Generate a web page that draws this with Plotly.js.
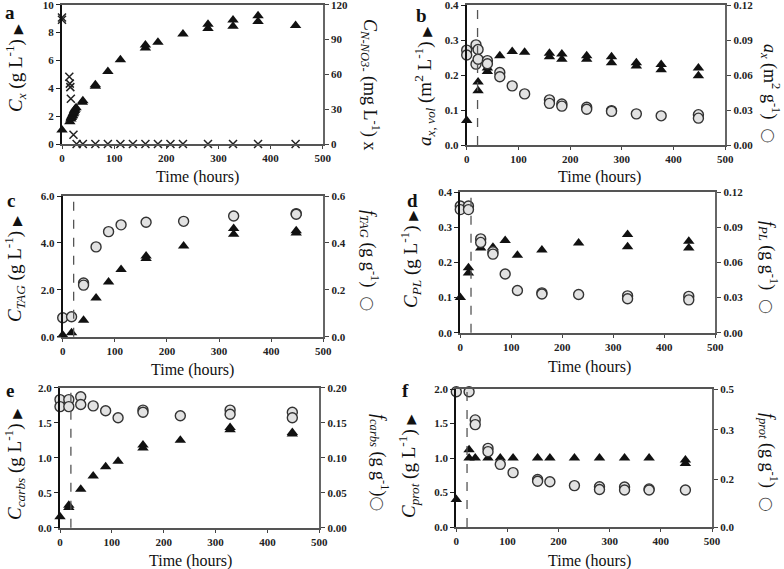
<!DOCTYPE html>
<html><head><meta charset="utf-8">
<script src="https://cdn.plot.ly/plotly-3.0.1.min.js"></script>
<style>html,body{margin:0;padding:0;background:#fff}#chart{width:784px;height:569px}</style>
</head><body><div id="chart"></div>
<script>
// ---------- DATA ----------
const timeTicks = [0, 100, 200, 300, 400, 500];
// panel a
const aTriT = [0, 15, 17, 18, 19, 20, 21, 22, 23, 24, 25, 27, 39, 40, 64, 64, 88, 112, 160, 160, 184, 232, 280, 280, 328, 328, 376, 376, 448];
const aTriY = [1.0, 1.6, 1.8, 1.9, 2.0, 2.05, 2.15, 2.2, 2.3, 2.4, 2.5, 2.6, 3.0, 3.1, 4.15, 4.25, 5.2, 6.05, 6.9, 7.1, 7.3, 7.9, 8.3, 8.6, 8.45, 8.9, 8.8, 9.2, 8.5];
const aNT = [0, 0, 14, 15, 16, 17, 22, 28, 40, 64, 88, 112, 136, 160, 184, 208, 232, 280, 328, 376, 448];
const aNY = [107, 109, 58, 52, 49, 39, 8, 0, 0, 0, 0, 0, 0, 0, 0, 0, 0, 0, 0, 0, 0];
// panel b
const bTriT = [0, 22, 22, 40, 40, 64, 88, 112, 160, 160, 184, 184, 232, 232, 280, 280, 328, 328, 376, 376, 448, 448];
const bTriY = [0.07, 0.18, 0.155, 0.22, 0.21, 0.255, 0.267, 0.265, 0.262, 0.252, 0.26, 0.245, 0.255, 0.245, 0.252, 0.235, 0.235, 0.226, 0.23, 0.215, 0.22, 0.198];
const bCirT = [0, 0, 18, 18, 22, 22, 40, 40, 64, 64, 88, 112, 160, 160, 184, 184, 232, 232, 280, 280, 328, 376, 448, 448];
const bCirY = [0.0813, 0.0771, 0.0858, 0.0693, 0.0819, 0.0735, 0.0723, 0.0696, 0.0621, 0.0585, 0.0507, 0.0438, 0.0387, 0.0357, 0.0351, 0.0333, 0.0324, 0.0306, 0.0295, 0.0288, 0.0267, 0.025, 0.026, 0.023];
// panel c
const cTriT = [0, 17, 40, 64, 88, 112, 160, 160, 232, 328, 328, 448, 448];
const cTriY = [0.07, 0.17, 0.7, 1.65, 2.33, 2.87, 3.44, 3.34, 3.87, 4.61, 4.37, 4.52, 4.42];
const cCirT = [0, 17, 40, 40, 64, 88, 112, 160, 232, 328, 448, 448];
const cCirY = [0.081, 0.085, 0.229, 0.220, 0.383, 0.448, 0.477, 0.488, 0.492, 0.515, 0.525, 0.522];
// panel d
const dTriT = [0, 16, 16, 40, 64, 64, 88, 112, 160, 232, 328, 328, 448, 448];
const dTriY = [0.1, 0.185, 0.17, 0.241, 0.243, 0.233, 0.262, 0.22, 0.235, 0.255, 0.279, 0.244, 0.26, 0.241];
const dCirT = [0, 0, 16, 16, 40, 40, 64, 64, 88, 112, 160, 160, 232, 328, 328, 448, 448];
const dCirY = [0.108, 0.105, 0.108, 0.105, 0.080, 0.077, 0.069, 0.067, 0.050, 0.036, 0.0340, 0.0330, 0.0326, 0.0314, 0.029, 0.031, 0.028];
// panel e
const eTriT = [0, 17, 17, 40, 64, 88, 112, 160, 160, 232, 328, 328, 448, 448];
const eTriY = [0.157, 0.29, 0.32, 0.55, 0.74, 0.87, 0.95, 1.18, 1.14, 1.25, 1.43, 1.40, 1.36, 1.34];
const eCirT = [0, 0, 17, 17, 40, 40, 64, 88, 112, 160, 160, 232, 328, 328, 448, 448];
const eCirY = [0.183, 0.173, 0.183, 0.173, 0.187, 0.176, 0.174, 0.167, 0.157, 0.168, 0.165, 0.160, 0.168, 0.162, 0.165, 0.157];
// panel f
const fTriT = [0, 25, 25, 37, 62, 86, 111, 159, 183, 231, 280, 329, 377, 448, 448];
const fTriY = [0.40, 1.12, 1.0, 1.0, 1.0, 1.0, 1.0, 1.0, 1.0, 1.0, 1.0, 1.0, 1.0, 0.97, 0.92];
const fCirT = [0, 25, 37, 37, 62, 62, 86, 111, 159, 159, 183, 231, 280, 280, 329, 329, 377, 377, 448];
const fCirY = [0.49, 0.49, 0.388, 0.371, 0.285, 0.273, 0.227, 0.197, 0.172, 0.166, 0.164, 0.150, 0.146, 0.136, 0.145, 0.134, 0.138, 0.134, 0.134];
const fRightTickVals = [0, 0.172, 0.352, 0.5];
const fRightTickText = ['0.0', '0.2', '0.3', '0.5'];
const phaseLine = 21;

// ---------- LAYOUT HELPERS ----------
const W = 784, H = 569;
const serif = 'Liberation Serif, Times New Roman, serif';
const tickFont = {family: serif, size: 11, color: '#222', weight: 'bold'};
const TRI = '<span style="font-family:DejaVu Sans;font-size:13px">▶</span>';
const CIR = '<span style="font-family:DejaVu Sans;font-size:13px;color:#444">◯</span>';
const panels = [
  {px: [62, 322.7, 4.7, 144], L: {range: [0, 10], dtick: 2, fmt: 'd'}, R: {range: [0, 120], dtick: 30, fmt: 'd'},
   tri: [aTriT, aTriY], sec: [aNT, aNY], secType: 'x', dash: false, letter: 'a', lp: [10, 13],
   lt: '<i>C<sub>x</sub></i> (g L<sup>-1</sup>) ' + TRI, ltp: [15, 68],
   rt: '<i>C<sub>N-NO3-</sub></i> (mg L<sup>-1</sup>) x', rtp: [371, 85], xt: [198, 177]},
  {px: [466.7, 725.3, 5, 145], L: {range: [0, 0.4], dtick: 0.1, fmt: '.1f'}, R: {range: [0, 0.12], dtick: 0.03, fmt: '.2f'},
   tri: [bTriT, bTriY], sec: [bCirT, bCirY], secType: 'o', dash: true, letter: 'b', lp: [421, 15],
   lt: '<i>a<sub>x, vol</sub></i> (m<sup>2</sup> L<sup>-1</sup>) ' + TRI, ltp: [424, 87],
   rt: '<i>a<sub>x</sub></i> (m<sup>2</sup> g<sup>-1</sup>)  ' + CIR, rtp: [771, 93], xt: [599, 177]},
  {px: [62.7, 323.3, 196, 336.7], L: {range: [0, 6], dtick: 2, fmt: '.1f'}, R: {range: [0, 0.6], dtick: 0.2, fmt: '.1f'},
   tri: [cTriT, cTriY], sec: [cCirT, cCirY], secType: 'o', dash: true, letter: 'c', lp: [11, 200],
   lt: '<i>C<sub>TAG</sub></i> (g L<sup>-1</sup>) ' + TRI, ltp: [14, 269],
   rt: '<i>f<sub>TAG</sub></i> (g g<sup>-1</sup>)  ' + CIR, rtp: [370, 260], xt: [192, 370]},
  {px: [460.3, 715.3, 192, 332.7], L: {range: [0, 0.4], dtick: 0.1, fmt: '.1f'}, R: {range: [0, 0.12], dtick: 0.03, fmt: '.2f'},
   tri: [dTriT, dTriY], sec: [dCirT, dCirY], secType: 'o', dash: true, letter: 'd', lp: [412, 200],
   lt: '<i>C<sub>PL</sub></i> (g L<sup>-1</sup>) ' + TRI, ltp: [410, 260],
   rt: '<i>f<sub>PL</sub></i> (g g<sup>-1</sup>)  ' + CIR, rtp: [769, 267], xt: [589, 367]},
  {px: [60, 319.3, 387.7, 527.7], L: {range: [0, 2], dtick: 0.5, fmt: '.1f'}, R: {range: [0, 0.2], dtick: 0.05, fmt: '.2f'},
   tri: [eTriT, eTriY], sec: [eCirT, eCirY], secType: 'o', dash: true, letter: 'e', lp: [10, 390],
   lt: '<i>C<sub>carbs</sub></i> (g L<sup>-1</sup>) ' + TRI, ltp: [14, 465],
   rt: '<i>f<sub>carbs</sub></i> (g g<sup>-1</sup>)' + CIR, rtp: [380, 462], xt: [190, 561]},
  {px: [456.3, 712, 389, 527], L: {range: [0, 2], dtick: 0.5, fmt: '.1f'}, R: {range: [0, 0.5], vals: fRightTickVals, text: fRightTickText},
   tri: [fTriT, fTriY], sec: [fCirT, fCirY], secType: 'o', dash: true, letter: 'f', lp: [405, 390],
   lt: '<i>C<sub>prot</sub></i> (g L<sup>-1</sup>) ' + TRI, ltp: [408, 467],
   rt: '<i>f<sub>prot</sub></i> (g g<sup>-1</sup>)  ' + CIR, rtp: [769, 462], xt: [589, 561]}
];

const data = [];
const layout = {
  width: W, height: H, margin: {l: 0, r: 0, t: 0, b: 0},
  paper_bgcolor: '#fff', plot_bgcolor: 'rgba(0,0,0,0)', showlegend: false,
  annotations: [], shapes: []
};
const px2x = p => p / W, py2y = p => 1 - p / H;

panels.forEach((p, i) => {
  const n = i + 1;
  const xk = 'xaxis' + (n === 1 ? '' : n), xr = 'x' + (n === 1 ? '' : n);
  const yl = 2 * n - 1, yr = 2 * n;
  const ylk = 'yaxis' + (yl === 1 ? '' : yl), ylr = 'y' + (yl === 1 ? '' : yl);
  const yrk = 'yaxis' + yr, yrr = 'y' + yr;
  const dx = [px2x(p.px[0]), px2x(p.px[1])];
  const dy = [py2y(p.px[3]), py2y(p.px[2])];
  layout[xk] = {domain: dx, anchor: ylr, range: [0, 500], tickvals: timeTicks, showgrid: false, zeroline: false,
    showline: true, linecolor: '#555', linewidth: 2, mirror: true, ticks: 'outside', ticklen: 3, tickcolor: '#444',
    tickfont: tickFont, ticklabeloverflow: 'allow'};
  const L = p.L, R = p.R;
  layout[ylk] = {domain: dy, anchor: xr, range: L.range, dtick: L.dtick, tick0: 0, tickformat: L.fmt, showgrid: false, zeroline: false,
    showline: true, linecolor: '#111', linewidth: 2, ticks: 'outside', ticklen: 4, tickcolor: '#222', tickfont: tickFont,
    ticklabeloverflow: 'allow'};
  const rAx = {overlaying: ylr, side: 'right', anchor: xr, range: R.range, showgrid: false, zeroline: false,
    showline: true, linecolor: '#666', linewidth: 2, ticks: 'outside', ticklen: 4, tickcolor: '#444', tickfont: tickFont,
    ticklabeloverflow: 'allow'};
  if (R.vals) { rAx.tickvals = R.vals; rAx.ticktext = R.text; } else { rAx.dtick = R.dtick; rAx.tick0 = 0; rAx.tickformat = R.fmt; }
  layout[yrk] = rAx;

  if (p.secType === 'x') {
    data.push({type: 'scatter', mode: 'markers', x: p.sec[0], y: p.sec[1], xaxis: xr, yaxis: yrr, cliponaxis: false,
      marker: {symbol: 'x-thin', size: 8, line: {color: '#222', width: 1.5}}});
  } else {
    data.push({type: 'scatter', mode: 'markers', x: p.sec[0], y: p.sec[1], xaxis: xr, yaxis: yrr, cliponaxis: false,
      marker: {symbol: 'circle', size: 10, color: '#e2e2e2', line: {color: '#333', width: 1.4}}});
  }
  data.push({type: 'scatter', mode: 'markers', x: p.tri[0], y: p.tri[1], xaxis: xr, yaxis: ylr, cliponaxis: false,
    marker: {symbol: 'triangle-up', size: 10, color: '#111'}});

  if (p.dash) {
    layout.shapes.push({type: 'line', xref: xr, yref: ylr + ' domain', x0: phaseLine, x1: phaseLine, y0: 0, y1: 1,
      line: {color: '#555', width: 1.3, dash: 'dash'}});
  }
  const ann = (txt, pos, size, angle) => layout.annotations.push({
    text: txt, xref: 'paper', yref: 'paper', x: px2x(pos[0]), y: py2y(pos[1]), xanchor: 'center', yanchor: 'middle',
    showarrow: false, textangle: angle, font: {family: serif, size: size, color: '#111'}});
  ann('<b>' + p.letter + '</b>', p.lp, 19, 0);
  ann(p.lt, p.ltp, 19, -90);
  ann(p.rt, p.rtp, 18, 90);
  ann('Time (hours)', p.xt, 16, 0);
});

Plotly.newPlot('chart', data, layout, {staticPlot: true, displayModeBar: false});
</script></body></html>
